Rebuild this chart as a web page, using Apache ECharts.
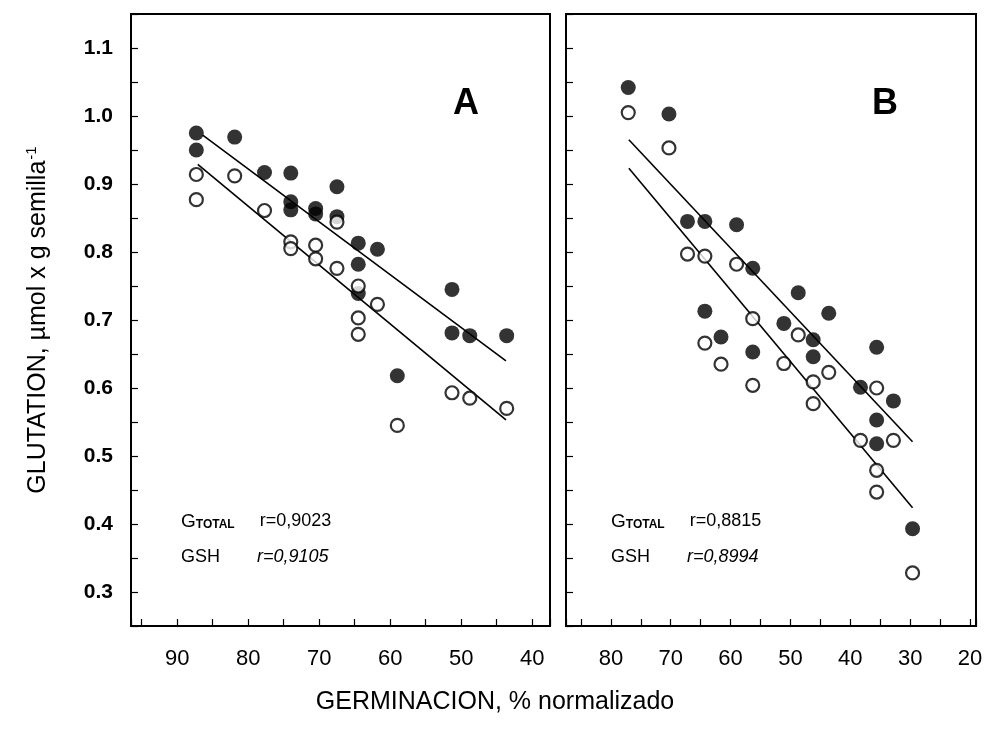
<!DOCTYPE html>
<html>
<head>
<meta charset="utf-8">
<script src="https://cdn.jsdelivr.net/npm/echarts@6/dist/echarts.min.js"></script>
<style>
  html, body { margin: 0; padding: 0; background: #fff; }
  #chart { width: 990px; height: 733px; }
</style>
</head>
<body>
<div id="chart"></div>
<script>
(function() {
  // Panel A: germination (%) vs glutathione, filled = G total, open = GSH
  var germA_total = [87.3, 87.3, 81.9, 77.7, 74.0, 74.0, 74.0, 70.5, 70.5, 67.5, 67.5, 64.5, 61.8, 64.5, 64.5, 51.3, 51.3, 48.8, 43.6, 59.0];
  var glutA_total = [0.975, 0.950, 0.969, 0.917, 0.916, 0.874, 0.862, 0.864, 0.856, 0.896, 0.852, 0.813, 0.804, 0.782, 0.739, 0.745, 0.681, 0.677, 0.677, 0.618];
  var germA_gsh = [87.3, 87.3, 81.9, 77.7, 74.0, 74.0, 70.5, 70.5, 67.5, 67.5, 64.5, 61.8, 64.5, 64.5, 51.3, 48.8, 43.6, 59.0];
  var glutA_gsh = [0.914, 0.877, 0.912, 0.861, 0.815, 0.805, 0.810, 0.790, 0.844, 0.776, 0.750, 0.723, 0.703, 0.679, 0.593, 0.585, 0.570, 0.545];
  var fitA_total = [[86.4, 0.972], [43.7, 0.640]];
  var fitA_gsh = [[87.1, 0.929], [43.7, 0.553]];

  // Panel B
  var germB_total = [77.1, 70.3, 67.2, 64.3, 59.0, 56.3, 64.3, 61.6, 56.3, 51.1, 48.7, 43.6, 46.2, 46.2, 35.6, 38.3, 32.8, 35.6, 35.6, 29.6];
  var glutB_total = [1.042, 1.003, 0.845, 0.845, 0.840, 0.776, 0.713, 0.675, 0.653, 0.695, 0.740, 0.710, 0.671, 0.646, 0.660, 0.601, 0.581, 0.553, 0.518, 0.393];
  var germB_gsh = [77.1, 70.3, 67.2, 64.3, 59.0, 64.3, 61.6, 56.3, 56.3, 51.1, 48.7, 46.2, 46.2, 43.6, 38.3, 35.6, 32.8, 35.6, 35.6, 29.6];
  var glutB_gsh = [1.005, 0.953, 0.797, 0.794, 0.782, 0.666, 0.635, 0.702, 0.604, 0.636, 0.678, 0.609, 0.577, 0.623, 0.523, 0.600, 0.523, 0.479, 0.447, 0.328];
  var fitB_total = [[77.0, 0.965], [29.6, 0.521]];
  var fitB_gsh = [[77.0, 0.923], [29.6, 0.424]];

  var yTicks = ['0.3', '0.4', '0.5', '0.6', '0.7', '0.8', '0.9', '1.0', '1.1'];

  function pairs(xs, ys) {
    return xs.map(function(x, i) { return [x, ys[i]]; });
  }

  var ink = '#000';
  var labelFont = 'Liberation Sans, Arial, sans-serif';
  var narrowFont = 'Liberation Sans Narrow, Liberation Sans, Arial, sans-serif';

  function xAxis(idx, min, max) {
    return {
      type: 'value', gridIndex: idx, inverse: true,
      min: min, max: max, splitNumber: 12,
      axisLine: { show: true, lineStyle: { color: ink, width: 2 } },
      axisTick: { show: true, inside: true, length: 7, lineStyle: { color: ink, width: 1.2 } },
      splitLine: { show: false },
      axisLabel: {
        margin: 22, color: ink, fontSize: 22, fontFamily: narrowFont,
        showMinLabel: true, showMaxLabel: true,
        formatter: function(v) { return Math.abs(v % 10) < 1e-6 ? String(v) : ''; }
      }
    };
  }

  function yAxis(idx, showLabels) {
    var ax = {
      type: 'value', gridIndex: idx,
      min: 0.25, max: 1.15, interval: 0.05,
      axisLine: { show: true, lineStyle: { color: ink, width: 2 } },
      axisTick: { show: true, inside: true, length: 7, lineStyle: { color: ink, width: 1.2 } },
      splitLine: { show: false },
      axisLabel: {
        show: showLabels, margin: 18, color: ink, fontSize: 21, fontWeight: 'bold', fontFamily: labelFont,
        formatter: function(v) {
          var s = v.toFixed(1);
          return yTicks.indexOf(s) >= 0 && Math.abs(v * 10 - Math.round(v * 10)) < 1e-6 ? s : '';
        }
      }
    };
    if (showLabels) {
      ax.name = 'GLUTATION, µmol x g semilla{sup|-1}';
      ax.nameLocation = 'middle';
      ax.nameRotate = 90;
      ax.nameGap = 78;
      ax.nameTextStyle = {
        color: ink, fontSize: 25, fontFamily: labelFont,
        rich: { sup: { fontSize: 15, fontFamily: labelFont, color: ink, verticalAlign: 'top', padding: [0, 0, 14, 1] } }
      };
    }
    return ax;
  }

  function filled(idx, data) {
    return { type: 'scatter', xAxisIndex: idx, yAxisIndex: idx, data: data, symbol: 'circle', symbolSize: 15,
      itemStyle: { color: ink }, z: 3 };
  }
  function open(idx, data) {
    return { type: 'scatter', xAxisIndex: idx, yAxisIndex: idx, data: data, symbol: 'circle', symbolSize: 13,
      itemStyle: { color: '#fff', borderColor: ink, borderWidth: 2.2 }, z: 4 };
  }
  function fit(idx, data) {
    return { type: 'line', xAxisIndex: idx, yAxisIndex: idx, data: data, symbol: 'none',
      lineStyle: { color: ink, width: 1.6 }, z: 2 };
  }

  function rText(x, y, g, r, italic) {
    return {
      type: 'text', left: x, top: y,
      style: {
        text: (g === 'GTOTAL' ? '{g|G}{t|TOTAL}' : '{h|' + g + '}') + '{r|' + r + '}',
        rich: {
          g: { fontSize: 19, fontFamily: labelFont, fill: ink, verticalAlign: 'bottom' },
          t: { fontSize: 12, fontWeight: 'bold', fontFamily: labelFont, fill: ink, verticalAlign: 'bottom', width: 64 },
          h: { fontSize: 18, fontFamily: labelFont, fill: ink, width: 76, padding: [0, 0, 0, 4] },
          r: { fontSize: 18, fontFamily: labelFont, fill: ink, fontStyle: italic ? 'italic' : 'normal' }
        }
      }
    };
  }

  var chart = echarts.init(document.getElementById('chart'), null, { renderer: 'canvas' });
  chart.setOption({
    animation: false,
    backgroundColor: '#fff',
    grid: [
      { left: 131, top: 14, width: 419, height: 612, show: true, borderColor: ink, borderWidth: 2 },
      { left: 566, top: 14, width: 410, height: 612, show: true, borderColor: ink, borderWidth: 2 }
    ],
    xAxis: [xAxis(0, 37.5, 96.5), xAxis(1, 19, 87.5)],
    yAxis: [yAxis(0, true), yAxis(1, false)],
    series: [
      fit(0, fitA_total), fit(0, fitA_gsh),
      filled(0, pairs(germA_total, glutA_total)), open(0, pairs(germA_gsh, glutA_gsh)),
      fit(1, fitB_total), fit(1, fitB_gsh),
      filled(1, pairs(germB_total, glutB_total)), open(1, pairs(germB_gsh, glutB_gsh))
    ],
    graphic: [
      { type: 'text', left: 453, top: 86, style: { text: 'A', fontSize: 36, fontWeight: 'bold', fontFamily: narrowFont, fill: ink } },
      { type: 'text', left: 872, top: 86, style: { text: 'B', fontSize: 36, fontWeight: 'bold', fontFamily: narrowFont, fill: ink } },
      rText(181, 512, 'GTOTAL', 'r=0,9023', false),
      rText(181, 548, 'GSH', 'r=0,9105', true),
      rText(611, 512, 'GTOTAL', 'r=0,8815', false),
      rText(611, 548, 'GSH', 'r=0,8994', true),
      { type: 'text', left: 'center', top: 690, style: { text: 'GERMINACION, % normalizado', fontSize: 25, fontFamily: narrowFont, fill: ink } }
    ]
  });
  window.addEventListener('resize', function() { chart.resize(); });
})();
</script>
</body>
</html>
